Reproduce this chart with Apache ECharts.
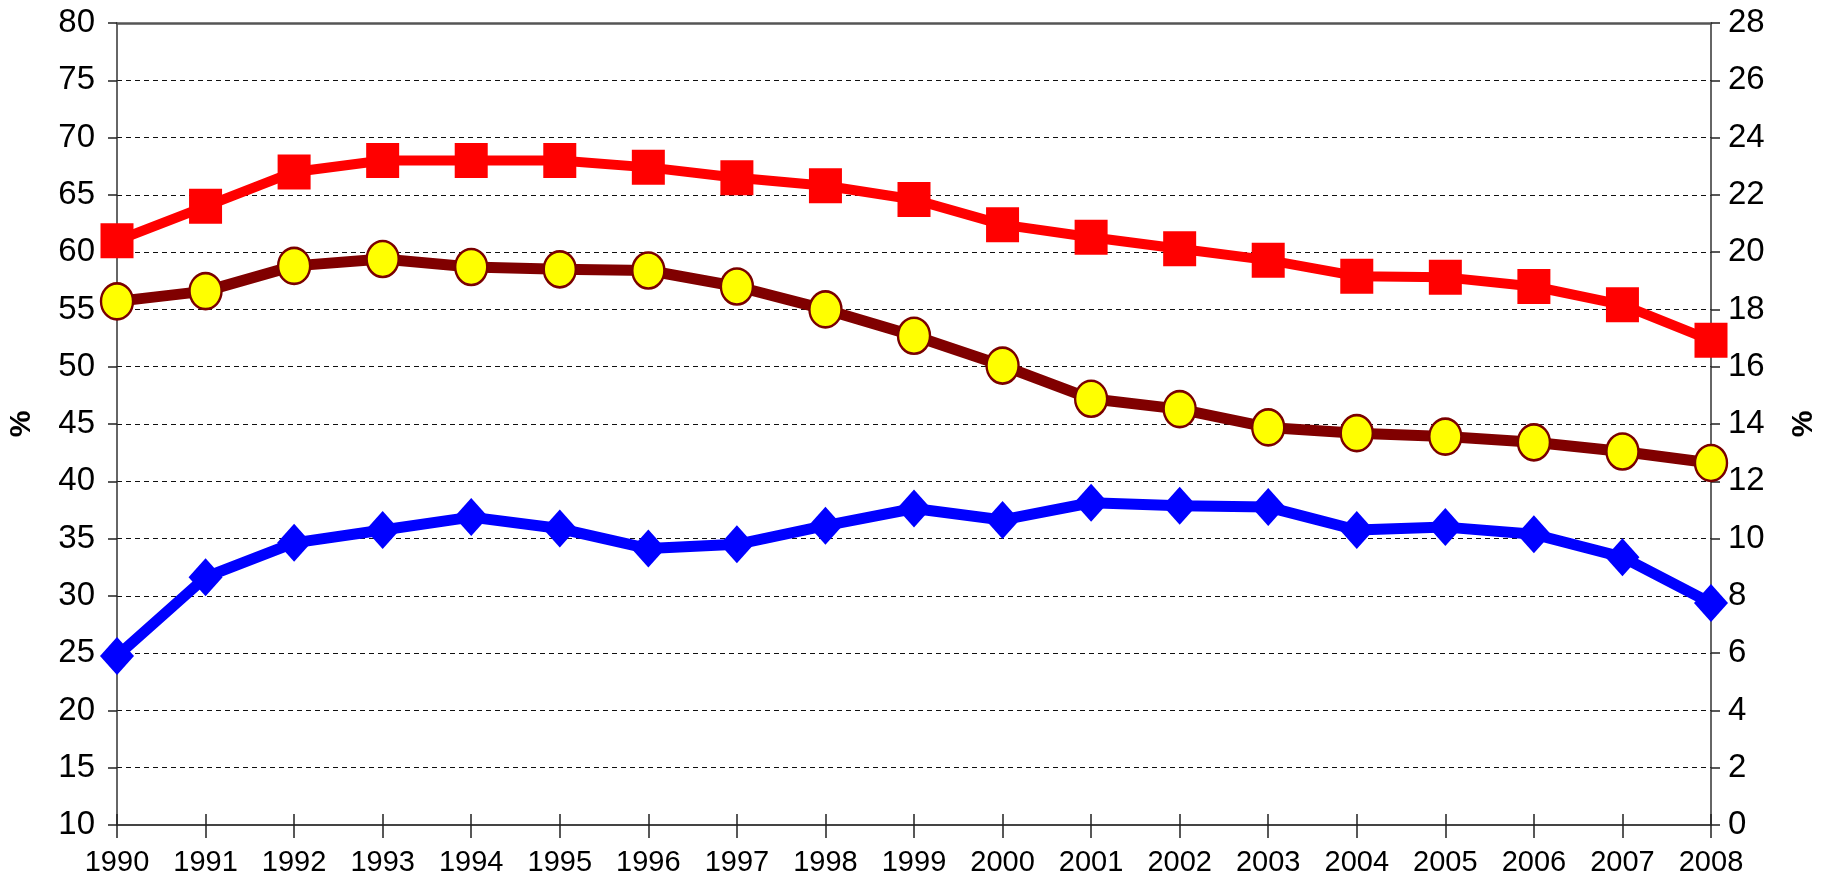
<!DOCTYPE html>
<html>
<head>
<meta charset="utf-8">
<script src="https://cdn.jsdelivr.net/npm/echarts@6/dist/echarts.min.js"></script>
<style>
html, body { margin: 0; padding: 0; background: #fff; overflow: hidden; }
#main { width: 1821px; height: 895px; }
</style>
</head>
<body>
<div id="main"></div>
<script>
// categories
let years = ['1990', '1991', '1992', '1993', '1994', '1995', '1996', '1997', '1998', '1999',
  '2000', '2001', '2002', '2003', '2004', '2005', '2006', '2007', '2008'];
// left axis (%)
let squareValues = [61.0, 64.0, 67.0, 68.0, 68.0, 68.0, 67.4, 66.5, 65.8, 64.6,
  62.4, 61.3, 60.3, 59.3, 57.9, 57.8, 57.0, 55.4, 52.3];
let circleValues = [55.7, 56.6, 58.8, 59.4, 58.7, 58.5, 58.4, 57.0, 55.0, 52.7,
  50.1, 47.2, 46.3, 44.7, 44.2, 43.9, 43.4, 42.6, 41.6];
// right axis (%)
let diamondValues = [5.9, 8.65, 9.85, 10.3, 10.75, 10.35, 9.65, 9.8, 10.45, 11.05,
  10.65, 11.25, 11.15, 11.1, 10.3, 10.4, 10.15, 9.35, 7.75];

let labelFont = 'Liberation Sans, Arial, sans-serif';

let option = {
  animation: false,
  backgroundColor: '#fff',
  grid: {
    left: 117,
    right: 110,
    top: 23,
    bottom: 70,
    containLabel: false,
    outerBoundsMode: 'none'
  },
  xAxis: [
    {
      type: 'category',
      data: years,
      boundaryGap: false,
      axisLine: { lineStyle: { color: '#444', width: 2 } },
      axisTick: { show: true, length: 13, lineStyle: { color: '#222', width: 1.5 } },
      axisLabel: {
        interval: 0,
        margin: 23,
        color: '#000',
        fontSize: 29,
        fontFamily: labelFont
      },
      splitLine: { show: false }
    },
    {
      // solid top border of the plot
      type: 'category',
      data: years,
      position: 'top',
      boundaryGap: false,
      axisLine: { lineStyle: { color: '#555', width: 2.5 } },
      axisTick: { show: false },
      axisLabel: { show: false },
      splitLine: { show: false }
    },
    {
      // upper half of the crossing x ticks
      type: 'category',
      data: years,
      position: 'bottom',
      boundaryGap: false,
      axisLine: { show: false },
      axisTick: { show: true, inside: true, interval: 0, length: 11, lineStyle: { color: '#222', width: 1.5 } },
      axisLabel: { show: false },
      splitLine: { show: false }
    }
  ],
  yAxis: [
    {
      type: 'value',
      min: 10,
      max: 80,
      interval: 5,
      name: '%',
      nameLocation: 'middle',
      nameRotate: 90,
      nameGap: 80,
      nameTextStyle: { fontSize: 30, fontWeight: 'bold', color: '#000', fontFamily: labelFont },
      axisLine: { show: true, lineStyle: { color: '#333', width: 1.5 } },
      axisTick: { show: true, length: 9, lineStyle: { color: '#222', width: 1.5 } },
      axisLabel: { margin: 22, color: '#000', fontSize: 33, fontFamily: labelFont },
      splitLine: {
        show: true,
        lineStyle: { color: '#111', width: 1.2, type: [5, 4] }
      }
    },
    {
      type: 'value',
      min: 0,
      max: 28,
      interval: 2,
      position: 'right',
      name: '%',
      nameLocation: 'middle',
      nameRotate: 90,
      nameGap: 78,
      nameTextStyle: { fontSize: 30, fontWeight: 'bold', color: '#000', fontFamily: labelFont },
      axisLine: { show: true, lineStyle: { color: '#333', width: 1.5 } },
      axisTick: { show: true, length: 9, lineStyle: { color: '#222', width: 1.5 } },
      axisLabel: { margin: 17, color: '#000', fontSize: 33, fontFamily: labelFont },
      splitLine: { show: false }
    }
  ],
  series: [
    {
      type: 'line',
      yAxisIndex: 1,
      data: diamondValues,
      symbol: 'diamond',
      symbolSize: [34, 38],
      lineStyle: { color: '#0000ff', width: 11 },
      itemStyle: { color: '#0000ff' }
    },
    {
      type: 'line',
      yAxisIndex: 0,
      data: circleValues,
      symbol: 'circle',
      symbolSize: [32, 36],
      lineStyle: { color: '#800000', width: 11 },
      itemStyle: { color: '#ffff00', borderColor: '#7a0000', borderWidth: 2.5 }
    },
    {
      type: 'line',
      yAxisIndex: 0,
      data: squareValues,
      symbol: 'rect',
      symbolSize: [33, 35],
      lineStyle: { color: '#ff0000', width: 10 },
      itemStyle: { color: '#ff0000' }
    }
  ]
};

let chart = echarts.init(document.getElementById('main'));
chart.setOption(option);
window.addEventListener('resize', () => chart.resize());
</script>
</body>
</html>
